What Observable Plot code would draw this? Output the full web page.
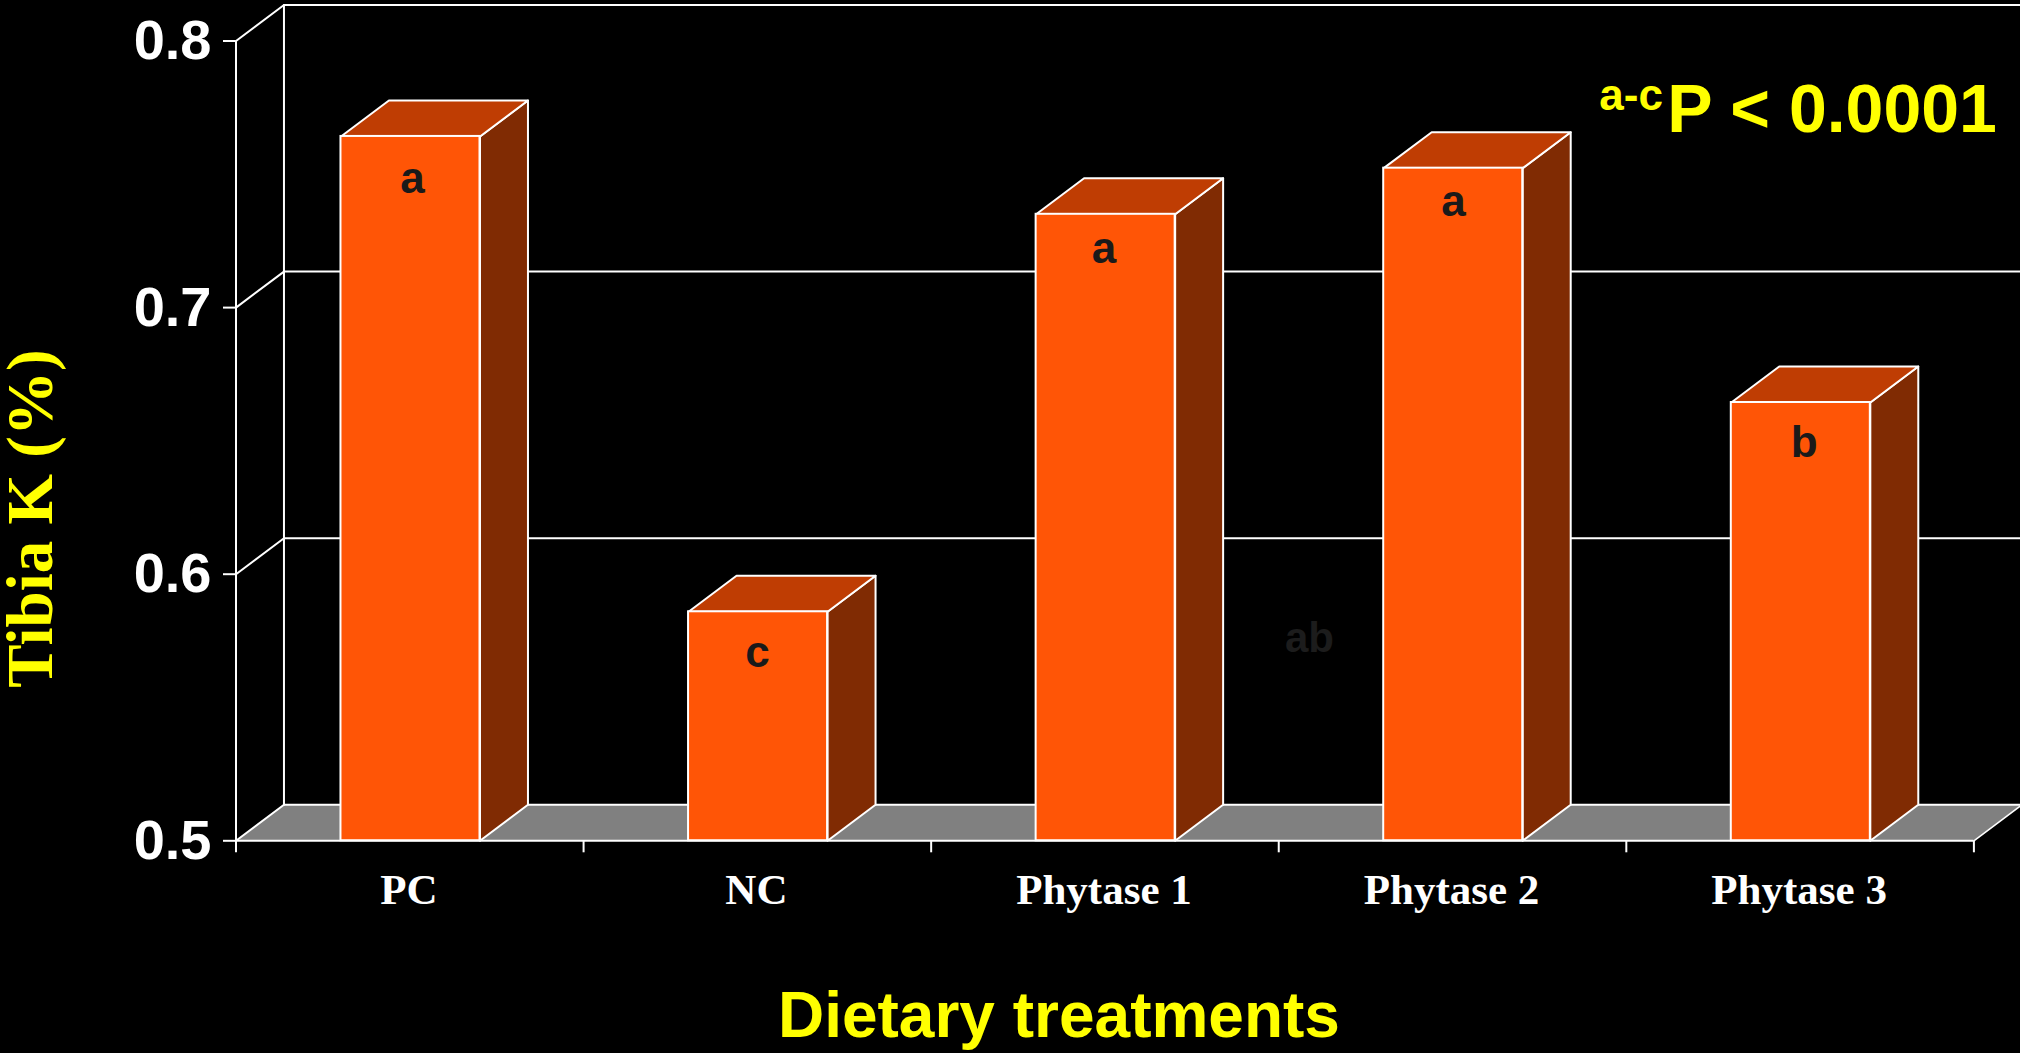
<!DOCTYPE html>
<html>
<head>
<meta charset="utf-8">
<script src="https://cdn.jsdelivr.net/npm/d3@7"></script>
<script src="https://cdn.jsdelivr.net/npm/@observablehq/plot@0.6"></script>
<style>
  html, body { margin: 0; padding: 0; background: #000; overflow: hidden; }
  svg { display: block; }
</style>
</head>
<body>
<div id="chart"></div>
<script>
const categories = ["PC", "NC", "Phytase 1", "Phytase 2", "Phytase 3"];
const values = [0.7642, 0.5859, 0.7350, 0.7523, 0.6644];
const letters = ["a", "c", "a", "a", "b"];
const yTicks = [0.5, 0.6, 0.7, 0.8];
const gridValues = [0.6, 0.7, 0.8];

const base = 0.5;
const halfWidth = 0.2;
const barShift = 0.002;
const depthX = 0.138;
const depthY = 0.0135;
const right = categories.length;
const edge = right + depthX;
const letterDrop = [0.0213, 0.0206, 0.0184, 0.0179, 0.0203];
const letterNudge = [0.008, 0, -0.003, 0.003, 0.012];

const bars = categories.map((name, i) => ({
  name, value: values[i], letter: letters[i],
  x1: i + 0.5 - halfWidth + barShift, x2: i + 0.5 + halfWidth + barShift, mid: i + 0.5,
  letterX: i + 0.5 + letterNudge[i], letterY: values[i] - letterDrop[i]
}));

const poly = (id, pts) => pts.map(([x, y]) => ({id, x, y}));
const sideFaces = bars.flatMap(b => poly(b.name, [
  [b.x2, base], [b.x2 + depthX, base + depthY], [b.x2 + depthX, b.value + depthY], [b.x2, b.value]
]));
const topFaces = bars.flatMap(b => poly(b.name, [
  [b.x1, b.value], [b.x1 + depthX, b.value + depthY], [b.x2 + depthX, b.value + depthY], [b.x2, b.value]
]));
const floor = poly("floor", [[0, base], [depthX, base + depthY], [edge, base + depthY], [right, base]]);
const wall = gridValues.flatMap(v => poly(v, [[0, v], [depthX, v + depthY], [edge, v + depthY]]));
const backEdge = poly("back", [[depthX, base + depthY], [depthX, 0.8 + depthY]]);

const serif = "'Liberation Serif', serif";
const sans = "'Liberation Sans', Arial, sans-serif";

const plot = Plot.plot({
  width: 2020,
  height: 1053,
  marginLeft: 235.5,
  marginRight: 46.6,
  marginTop: 40.5,
  marginBottom: 212.7,
  style: {background: "#000", color: "#fff", overflow: "hidden"},
  x: {domain: [0, right], label: null},
  y: {domain: [base, 0.8], label: null},
  marks: [
    Plot.line(floor, {x: "x", y: "y", curve: "linear-closed", fill: "#808080", stroke: "none"}),
    Plot.line(wall, {x: "x", y: "y", z: "id", stroke: "#fff", strokeWidth: 2}),
    Plot.line(backEdge, {x: "x", y: "y", stroke: "#fff", strokeWidth: 2}),
    Plot.line(poly("floorBack", [[depthX, base + depthY], [edge, base + depthY]]), {x: "x", y: "y", stroke: "#fff", strokeWidth: 2}),
    Plot.line(poly("floorEnd", [[right, base], [edge, base + depthY]]), {x: "x", y: "y", stroke: "#fff", strokeWidth: 1.5}),
    Plot.line(poly("floorStart", [[0, base], [depthX, base + depthY]]), {x: "x", y: "y", stroke: "#fff", strokeWidth: 2}),
    Plot.line(sideFaces, {x: "x", y: "y", z: "id", curve: "linear-closed", fill: "#802B03", stroke: "#fff", strokeWidth: 2}),
    Plot.line(topFaces, {x: "x", y: "y", z: "id", curve: "linear-closed", fill: "#BF3D03", stroke: "#fff", strokeWidth: 2}),
    Plot.rectY(bars, {x1: "x1", x2: "x2", y1: base, y2: "value", fill: "#FF5506", stroke: "#fff", strokeWidth: 2}),
    Plot.ruleY([base], {stroke: "#fff", strokeWidth: 2}),
    Plot.ruleX([0], {stroke: "#fff", strokeWidth: 2}),
    Plot.axisX({ticks: d3.range(0, right + 1), tickSize: 12, tickFormat: () => "", label: null, stroke: "#fff", strokeWidth: 2, strokeOpacity: 1}),
    Plot.axisX({ticks: bars.map(b => b.mid), tickSize: 0, tickPadding: 32.4, label: null, dx: -1,
      tickFormat: d => categories[d - 0.5], fontSize: 43, fontWeight: "bold", fontFamily: serif, fill: "#fff"}),
    Plot.axisY({ticks: yTicks, tickSize: 12.5, tickPadding: 12, label: null, tickFormat: d3.format(".1f"),
      fontSize: 56, fontWeight: "bold", fontFamily: sans, fill: "#fff", stroke: "#fff", strokeWidth: 2, strokeOpacity: 1}),
    Plot.text(bars, {x: "letterX", y: "letterY", text: "letter", lineAnchor: "bottom", fontSize: 44,
      fontWeight: "bold", fontFamily: sans, fill: "#1a1a1a"}),
    Plot.text(["ab"], {frameAnchor: "top-left", dx: 1073.5, dy: 611.2, lineAnchor: "bottom", fontSize: 42, fontWeight: "bold", fontFamily: sans, fill: "#1c1c1c", textAnchor: "middle"}),
    Plot.text(["Tibia K (%)"], {frameAnchor: "left", dx: -204.6, dy: 77.7, rotate: -90, textAnchor: "middle", fontSize: 65, fontWeight: "bold", fontFamily: serif, fill: "#ffff00", lineAnchor: "middle"}),
    Plot.text(["Dietary treatments"], {frameAnchor: "bottom", dx: -46, dy: 196, fontSize: 64, fontWeight: "bold", fontFamily: sans, fill: "#ffff00", lineAnchor: "bottom"}),
    Plot.text(["P < 0.0001"], {frameAnchor: "top-right", dx: 23, dy: 91, fontSize: 68, fontWeight: "bold", fontFamily: sans, fill: "#ffff00", lineAnchor: "bottom", textAnchor: "end"}),
    Plot.text(["a-c"], {frameAnchor: "top-right", dx: -311, dy: 69, fontSize: 44, fontWeight: "bold", fontFamily: sans, fill: "#ffff00", lineAnchor: "bottom", textAnchor: "end"})
  ]
});
document.getElementById("chart").append(plot);
</script>
</body>
</html>
